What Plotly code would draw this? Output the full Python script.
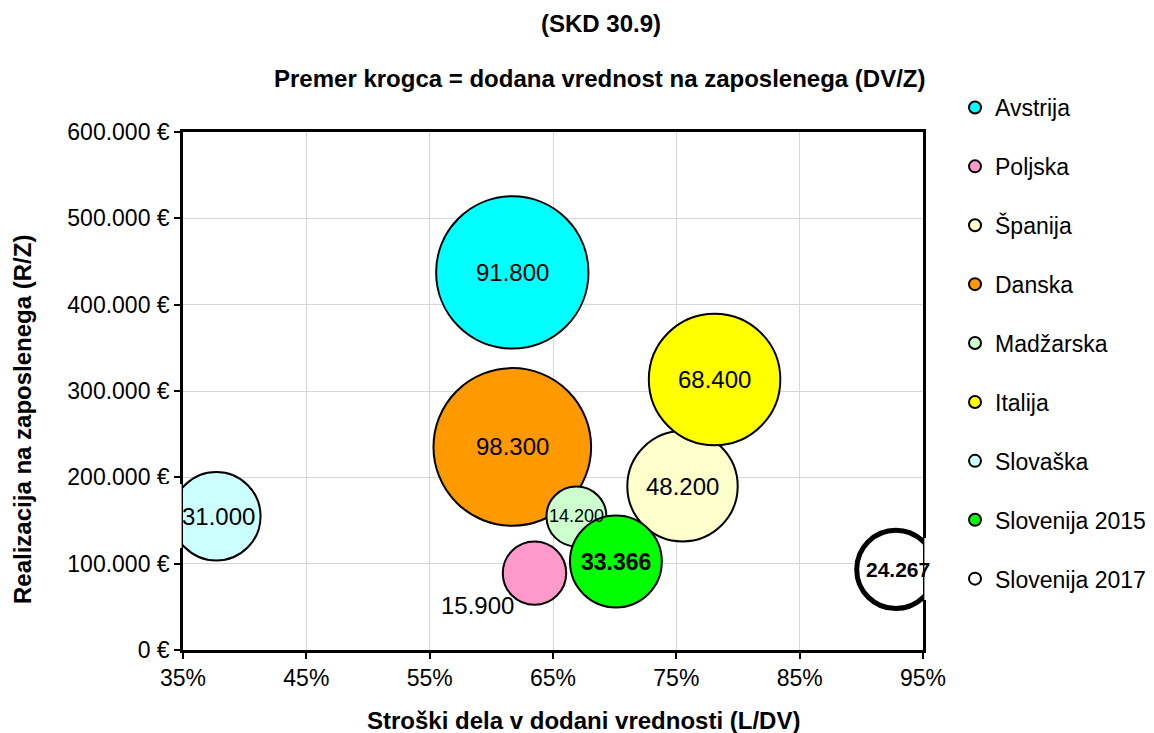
import plotly.graph_objects as go

# Data
countries = ["Avstrija", "Poljska", "Španija", "Danska", "Madžarska",
             "Italija", "Slovaška", "Slovenija 2015", "Slovenija 2017"]
labour_share = [0.617, 0.635, 0.755, 0.617, 0.669, 0.781, 0.377, 0.701, 0.928]   # L/DV
revenue_per_emp = [437400, 89000, 189700, 235200, 154700, 313400, 154900, 102500, 93300]  # R/Z
value_added_per_emp = [91800, 15900, 48200, 98300, 14200, 68400, 31000, 33366, 24267]   # DV/Z

colors = ["#00FFFF", "#FF99CC", "#FFFFCC", "#FF9900", "#CCFFCC",
          "#FFFF00", "#CCFFFF", "#00FF00", "#FFFFFF"]

FONT = "Liberation Sans, Arial, sans-serif"

# page body has an 8px margin, so work in shifted pixel coords
OFF = 8
W, H = 1154 - OFF, 733 - OFF
L, R, T, B = 183 - OFF, 923 - OFF, 132 - OFF, 650 - OFF


def px_x(px):
    return (px - OFF - L) / (R - L)


def px_y(py):
    return (B - (py - OFF)) / (B - T)


def fmt(v):
    return f"{v:,.0f}".replace(",", ".")


fig = go.Figure()

for i, name in enumerate(countries):
    slo17 = name == "Slovenija 2017"
    fig.add_trace(go.Scatter(
        x=[labour_share[i]], y=[revenue_per_emp[i]],
        mode="markers", name=name, legendgroup=name, cliponaxis=True,
        marker=dict(size=[value_added_per_emp[i]], sizemode="area", sizeref=2000 / 15.9 ** 2,
                    color=colors[i], opacity=1,
                    line=dict(color="black", width=5 if slo17 else 2)),
        hoverinfo="skip",
    ))

# bubbles are cut at the plot frame in the original: white out the overhang
for x0, x1, y0, y1 in [(160, 181.6, 484, 548), (924.4, 945, 538, 600)]:
    fig.add_shape(type="rect", xref="paper", yref="paper", layer="above",
                  x0=px_x(x0), x1=px_x(x1), y0=px_y(y1), y1=px_y(y0),
                  fillcolor="white", line_width=0)

# data labels on top of all bubbles
for i, name in enumerate(countries):
    bold = name.startswith("Slovenija")
    size = 24
    if name == "Madžarska":
        size = 18
    elif name == "Slovenija 2017":
        size = 21
    elif name == "Slovenija 2015":
        size = 23
    xs, ys = (-57, -32) if name == "Poljska" else (0, 0)
    if name in ("Slovaška", "Slovenija 2017"):
        xs = 2
    txt = fmt(value_added_per_emp[i])
    fig.add_annotation(
        x=labour_share[i], y=revenue_per_emp[i], xref="x", yref="y",
        text=f"<b>{txt}</b>" if bold else txt, showarrow=False,
        xanchor="center", yanchor="middle", xshift=xs, yshift=ys,
        font=dict(family=FONT, size=size, color="black"),
    )

# titles
title_font = dict(family=FONT, size=24, color="black")
paper = dict(xref="paper", yref="paper", showarrow=False, xanchor="center", yanchor="middle",
             font=title_font)
fig.add_annotation(x=px_x(601), y=px_y(23), text="<b>(SKD 30.9)</b>", **paper)
fig.add_annotation(x=px_x(600), y=px_y(78),
                   text="<b>Premer krogca = dodana vrednost na zaposlenega (DV/Z)</b>", **paper)
fig.add_annotation(x=px_x(583), y=px_y(720),
                   text="<b>Stroški dela v dodani vrednosti (L/DV)</b>", **paper)
fig.add_annotation(x=px_x(22), y=px_y(420), text="<b>Realizacija na zaposlenega (R/Z)</b>",
                   textangle=-90, **paper)

axis_common = dict(
    showline=True, linecolor="black", linewidth=2.5, mirror=True,
    showgrid=True, gridcolor="#D6D6D6", gridwidth=1,
    ticks="outside", ticklen=6, tickcolor="black", tickwidth=1.5,
    zeroline=False, tickfont=dict(family=FONT, size=23, color="black"),
)

fig.update_xaxes(range=[0.35, 0.95], tick0=0.35, dtick=0.1, tickformat=".0%", **axis_common)
fig.update_yaxes(range=[0, 600000], dtick=100000, tickformat=",d", ticksuffix=" €", **axis_common)

fig.update_layout(
    width=W, height=H,
    margin=dict(l=L, r=W - R, t=T, b=H - B, autoexpand=False),
    paper_bgcolor="white", plot_bgcolor="white",
    separators=",.",
    font=dict(family=FONT, color="black"),
    showlegend=True,
    legend=dict(
        x=px_x(955), y=px_y(86), xanchor="left", yanchor="top",
        font=dict(family=FONT, size=23, color="black"),
        itemsizing="constant", tracegroupgap=26, bgcolor="rgba(0,0,0,0)",
        maxheight=700,
    ),
)

fig.write_html("out.html")
